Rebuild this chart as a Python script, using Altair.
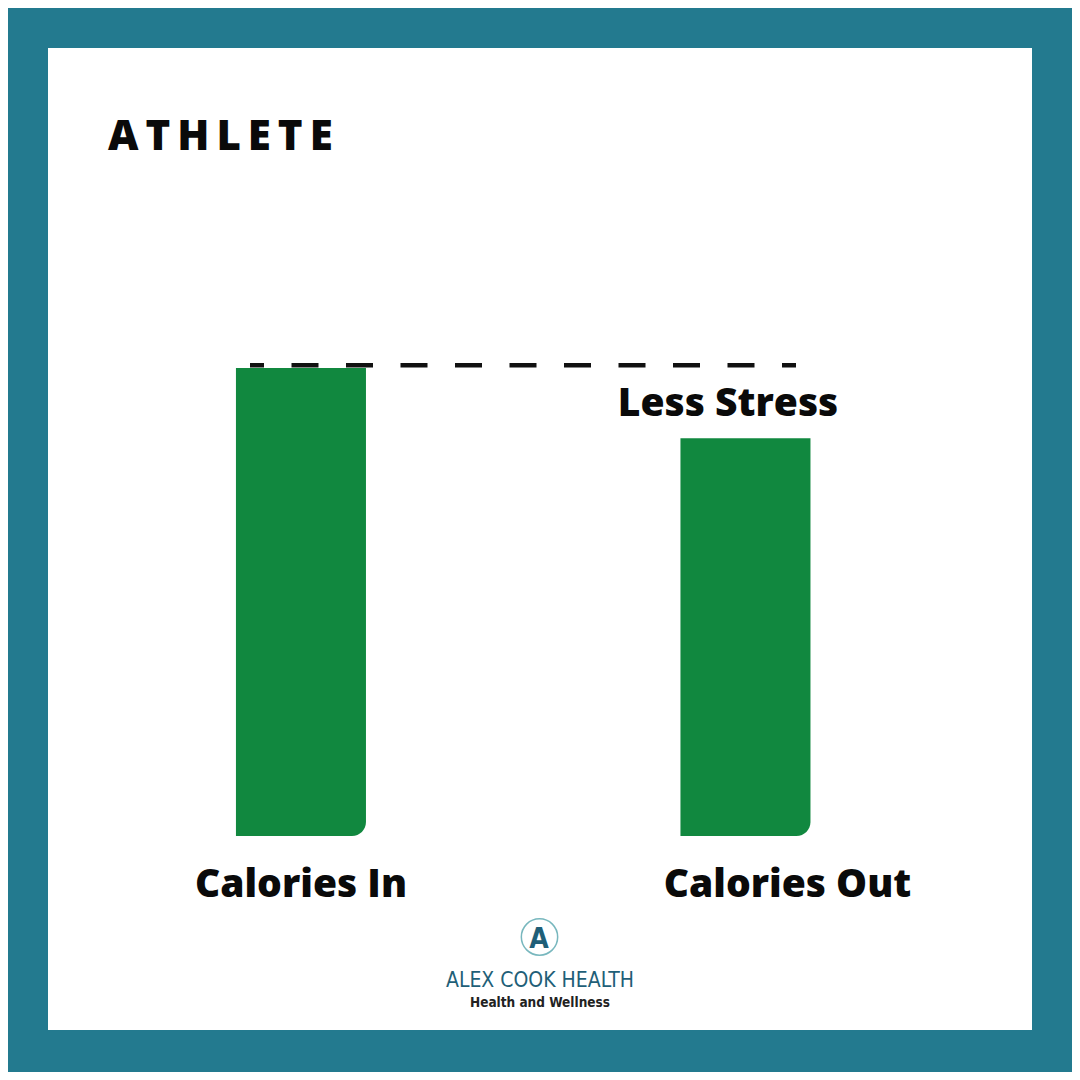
import altair as alt
import pandas as pd

# ---- data ----
categories = ["Calories In", "Calories Out"]
values = [100, 85]
reference_level = [100.6]
title_text = ["A\u2009T\u2009H\u2009L\u2009E\u2009T\u2009E"]
annotation = ["Less Stress"]
brand = ["ALEX COOK HEALTH"]
tagline = ["Health and Wellness"]
logo_letter = ["A"]

TEAL = "#237a8f"
GREEN = "#11883f"
INK = "#0a0a0a"
FONT = "Open Sans"
COND = "'DejaVu Sans Condensed', Roboto, sans-serif"

df = pd.DataFrame({"category": categories, "value": values})

xscale = alt.Scale(paddingInner=0.7075, paddingOuter=0.4606, align=0.459)
yscale = alt.Scale(domain=[-41.45, 168.38], nice=False, zero=False)

X = alt.X("category:N", sort=categories, scale=xscale, axis=None)

bars = alt.Chart(df).mark_bar(color=GREEN, cornerRadiusBottomRight=14).encode(
    x=X,
    y=alt.Y("value:Q", scale=yscale, axis=None),
    y2=alt.datum(0),
)

ref = alt.Chart(pd.DataFrame({"level": reference_level})).mark_rule(
    color="#111111", strokeWidth=4.5, strokeDash=[27, 27.5], strokeDashOffset=13
).encode(
    x=alt.value(202), x2=alt.value(748),
    y=alt.Y("level:Q", scale=yscale, axis=None),
)

def text_layer(txt, x, y, size, color=INK, font=FONT, weight="bold", align="center"):
    return alt.Chart(pd.DataFrame({"t": txt})).mark_text(
        font=font, fontSize=size, fontWeight=weight, color=color,
        align=align, baseline="alphabetic",
    ).encode(text="t:N", x=alt.value(x), y=alt.value(y))

title = text_layer(title_text, 60, 102, 42, align="left", weight=800)
less = text_layer(annotation, 680, 368, 39, weight=800)

lab_in = alt.Chart(df[df.category == "Calories In"]).mark_text(
    font=FONT, fontSize=39, fontWeight=800, color=INK, baseline="alphabetic"
).encode(x=X, text="category:N", y=alt.value(849))
lab_out = alt.Chart(df[df.category == "Calories Out"]).mark_text(
    font=FONT, fontSize=39, fontWeight=800, color=INK, baseline="alphabetic", dx=42
).encode(x=X, text="category:N", y=alt.value(849))

circle = alt.Chart(pd.DataFrame({"t": logo_letter})).mark_point(
    shape="circle", size=1320, stroke="#3f9aa3", strokeWidth=1.5, filled=False
).encode(x=alt.value(491.5), y=alt.value(889))
letter = text_layer(logo_letter, 491, 900, 28, color="#1f5f78", font=COND, weight="bold")
brand_t = text_layer(brand, 492, 939, 21, color="#1f5f78", font=COND, weight="normal")
tag_t = text_layer(tagline, 492, 959, 13.5, color="#222222", font=COND, weight="bold")

chart = alt.layer(
    bars, ref, title, less, lab_in, lab_out, circle, letter, brand_t, tag_t
).properties(
    width=984, height=982,
    background=TEAL,
    padding={"left": 40, "top": 40, "right": 40, "bottom": 42},
    autosize=alt.AutoSizeParams(type="none"),
).configure_view(stroke=None, fill="white")

chart.save("out.html", embed_options={"renderer": "svg", "actions": False})
